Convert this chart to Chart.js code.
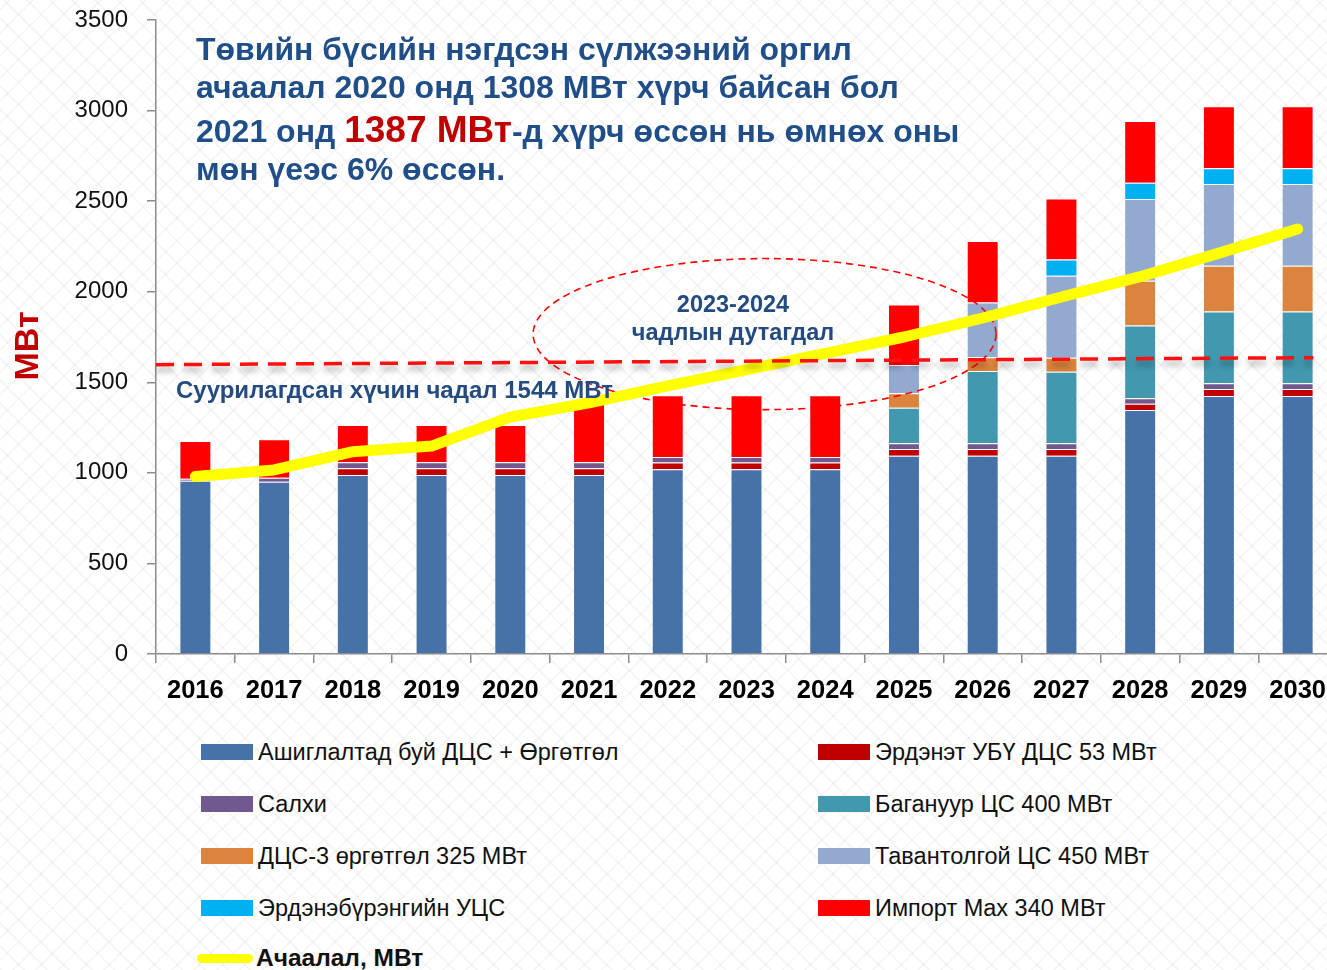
<!DOCTYPE html>
<html>
<head>
<meta charset="utf-8">
<script src="https://cdn.jsdelivr.net/npm/chart.js@4.4.1/dist/chart.umd.min.js"></script>
<style>
  body {
    margin: 0; width: 1327px; height: 970px; overflow: hidden; background-color: #ffffff;
    background-image:
      repeating-linear-gradient(45deg, rgba(0,0,0,0.035) 0 2px, transparent 2px 16px),
      repeating-linear-gradient(-45deg, rgba(0,0,0,0.03) 0 2px, transparent 2px 16px);
    font-family: "Liberation Sans", Arial, sans-serif;
  }
  #wrap { position: absolute; left: 0; top: 0; width: 1340px; height: 720px; }
  .item { position: absolute; display: flex; align-items: center; font-size: 23.5px; color: #111; white-space: nowrap; height: 26px; }
  .sw { width: 52px; height: 16px; margin-right: 5px; flex: none; }
  .sw.line { height: 9px; border-radius: 5px; margin-left: -4px; margin-right: 3px; width: 56px; }
</style>
</head>
<body>
<div id="wrap"><canvas id="chart" width="1340" height="720"></canvas></div>
<div id="legend"></div>
<script>
// Years on the x axis
const years = ['2016', '2017', '2018', '2019', '2020', '2021', '2022', '2023', '2024', '2025', '2026', '2027', '2028', '2029', '2030'];

// Stacked capacity, MW (bottom to top)
const existingPlants = [957, 951, 988, 988, 988, 988, 1020, 1020, 1020, 1095, 1095, 1095, 1347, 1424, 1424];
const erdenet       = [0, 0, 37, 37, 37, 37, 37, 37, 37, 37, 37, 37, 35, 39, 39];
const salkhi        = [10, 22, 33, 33, 33, 33, 31, 31, 31, 31, 31, 31, 30, 31, 31];
const baganuur      = [0, 0, 0, 0, 0, 0, 0, 0, 0, 197, 399, 395, 401, 397, 397];
const dcs3          = [0, 0, 0, 0, 0, 0, 0, 0, 0, 79, 76, 77, 248, 252, 252];
const tavantolgoi   = [0, 0, 0, 0, 0, 0, 0, 0, 0, 156, 302, 453, 451, 451, 451];
const erdeneburen   = [0, 0, 0, 0, 0, 0, 0, 0, 0, 0, 0, 90, 90, 88, 88];
const importMax     = [209, 212, 206, 206, 206, 340, 340, 340, 340, 335, 340, 337, 341, 342, 342];

// Peak load line, MW
const peakLoad = [980, 1016, 1117, 1148, 1308, 1387, 1480, 1570, 1660, 1750, 1855, 1971, 2083, 2213, 2346];

// Installed capacity dashed line, value at left and right end as drawn
const capacityLine = [1597, 1636];

const seriesLabels = [
  'Ашиглалтад буй ДЦС + Өргөтгөл',
  'Эрдэнэт УБҮ ДЦС 53 МВт',
  'Салхи',
  'Багануур ЦС 400 МВт',
  'ДЦС-3 өргөтгөл 325 МВт',
  'Тавантолгой ЦС 450 МВт',
  'Эрдэнэбүрэнгийн УЦС',
  'Импорт Max 340 МВт'
];
const seriesColors = ['#4672A8', '#C00000', '#71588F', '#4198AF', '#DB843D', '#93A9CF', '#00B0F0', '#FF0000'];
const seriesData = [existingPlants, erdenet, salkhi, baganuur, dcs3, tavantolgoi, erdeneburen, importMax];

const FONT = "'Liberation Sans', Arial, sans-serif";
const BLUE_TEXT = '#1F4E89';

const datasets = seriesData.map((d, i) => ({
  type: 'bar',
  label: seriesLabels[i],
  data: d,
  backgroundColor: seriesColors[i],
  borderColor: 'rgba(255,255,255,0.35)',
  borderWidth: 1,
  stack: 'cap',
  order: 1,
  barPercentage: 0.406,
  categoryPercentage: 1
}));

datasets.push({
  type: 'line',
  label: 'Ачаалал, МВт',
  data: peakLoad,
  borderColor: '#FFFF00',
  borderWidth: 11,
  borderCapStyle: 'round',
  borderJoinStyle: 'round',
  pointRadius: 0,
  tension: 0,
  stack: 'load',
  order: 0
});

// ellipse around the 2023-2024 shortage, in data units
const shortage = { cx: 7.23, cy: 1766, rx: 2.94, ry: 417 };

const overlay = {
  id: 'overlay',
  beforeDatasetDraw(chart, args) {
    if (args.index !== 8) return;
    const { ctx, scales: { x, y } } = chart;
    const cx = x.getPixelForValue(shortage.cx);
    const cy = y.getPixelForValue(shortage.cy);
    const rx = x.getPixelForValue(shortage.cx + shortage.rx) - cx;
    const ry = cy - y.getPixelForValue(shortage.cy + shortage.ry);
    ctx.save();
    ctx.strokeStyle = '#FF0000';
    ctx.lineWidth = 1.6;
    ctx.setLineDash([7, 5]);
    ctx.beginPath();
    ctx.ellipse(cx, cy, rx, ry, 0, 0, Math.PI * 2);
    ctx.stroke();
    ctx.restore();
  },
  afterDatasetsDraw(chart) {
    const { ctx, chartArea, scales: { x, y } } = chart;
    // installed capacity dashed line
    const x0 = chartArea.left;
    const x1 = x.getPixelForValue(14.2);
    ctx.save();
    ctx.strokeStyle = '#FF1010';
    ctx.lineWidth = 3.5;
    ctx.setLineDash([18, 10]);
    ctx.shadowColor = 'rgba(0,0,0,0.35)';
    ctx.shadowBlur = 6;
    ctx.shadowOffsetY = 5;
    ctx.beginPath();
    ctx.moveTo(x0, y.getPixelForValue(capacityLine[0]));
    ctx.lineTo(x1, y.getPixelForValue(capacityLine[1]));
    ctx.stroke();
    ctx.restore();

    ctx.save();
    // y axis title
    ctx.fillStyle = '#C00000';
    ctx.font = 'bold 34px ' + FONT;
    ctx.translate(29, 346);
    ctx.rotate(-Math.PI / 2);
    ctx.textAlign = 'center';
    ctx.textBaseline = 'middle';
    ctx.fillText('МВт', 0, 0);
    ctx.restore();

    ctx.save();
    ctx.fillStyle = BLUE_TEXT;
    ctx.textBaseline = 'alphabetic';
    ctx.font = 'bold 32px ' + FONT;
    ctx.fillText('Төвийн бүсийн нэгдсэн сүлжээний оргил', 196, 60);
    ctx.fillText('ачаалал 2020 онд 1308 МВт хүрч байсан бол', 196, 98);
    let tx = 196;
    ctx.fillText('2021 онд ', tx, 142);
    tx += ctx.measureText('2021 онд ').width;
    ctx.font = 'bold 37px ' + FONT;
    ctx.fillStyle = '#C00000';
    ctx.fillText('1387 МВт', tx, 142);
    tx += ctx.measureText('1387 МВт').width;
    ctx.font = 'bold 32px ' + FONT;
    ctx.fillStyle = BLUE_TEXT;
    ctx.fillText('-д хүрч өссөн нь өмнөх оны', tx, 142);
    ctx.fillText('мөн үеэс 6% өссөн.', 196, 180);

    // capacity label
    ctx.font = 'bold 24px ' + FONT;
    ctx.fillStyle = '#234B80';
    ctx.textBaseline = 'middle';
    ctx.fillText('Суурилагдсан хүчин чадал 1544 МВт', 176, 391);

    // shortage text
    ctx.textAlign = 'center';
    ctx.font = 'bold 23.5px ' + FONT;
    ctx.fillText('2023-2024', 733, 306);
    ctx.fillText('чадлын дутагдал', 733, 334);
    ctx.restore();
  }
};

const chart = new Chart(document.getElementById('chart'), {
  data: { labels: years, datasets: datasets },
  options: {
    responsive: false,
    animation: false,
    layout: { padding: { top: 20, left: 0, right: 3, bottom: 0 } },
    plugins: { legend: { display: false }, tooltip: { enabled: false } },
    scales: {
      x: {
        stacked: true,
        grid: { drawOnChartArea: false, tickLength: 9, color: '#8c8c8c', lineWidth: 1.5 },
        border: { color: '#8c8c8c', width: 1.5 },
        ticks: { font: { family: FONT, size: 25.5, weight: 'bold' }, color: '#000', padding: 13, maxRotation: 0, autoSkip: false },
        afterFit: s => { s.height = 66; s.paddingLeft = 0; s.paddingRight = 0; }
      },
      y: {
        stacked: true,
        min: 0,
        max: 3500,
        grid: { drawOnChartArea: false, tickLength: 9, color: '#8c8c8c', lineWidth: 1.5 },
        border: { color: '#8c8c8c', width: 1.5 },
        ticks: { stepSize: 500, font: { family: FONT, size: 24 }, color: '#111', padding: 19, callback: v => String(v) },
        afterFit: s => { s.width = 156; s.paddingTop = 0; s.paddingBottom = 0; }
      }
    }
  },
  plugins: [overlay]
});

// legend, two columns like the original
const legendEl = document.getElementById('legend');
const leftCol = [0, 2, 4, 6];
const rightCol = [1, 3, 5, 7];
const rowY = [752, 804, 856, 908];
function addItem(i, left, top) {
  const div = document.createElement('div');
  div.className = 'item';
  div.style.left = left + 'px';
  div.style.top = (top - 13) + 'px';
  const sw = document.createElement('span');
  sw.className = 'sw';
  sw.style.background = seriesColors[i];
  div.appendChild(sw);
  div.appendChild(document.createTextNode(seriesLabels[i]));
  legendEl.appendChild(div);
}
leftCol.forEach((i, r) => addItem(i, 201, rowY[r]));
rightCol.forEach((i, r) => addItem(i, 818, rowY[r]));

const loadItem = document.createElement('div');
loadItem.className = 'item';
loadItem.style.left = '201px';
loadItem.style.top = (958 - 13) + 'px';
loadItem.style.fontWeight = 'bold';
loadItem.style.fontSize = '24.5px';
const lsw = document.createElement('span');
lsw.className = 'sw line';
lsw.style.background = '#FFFF00';
loadItem.appendChild(lsw);
loadItem.appendChild(document.createTextNode('Ачаалал, МВт'));
legendEl.appendChild(loadItem);
</script>
</body>
</html>
